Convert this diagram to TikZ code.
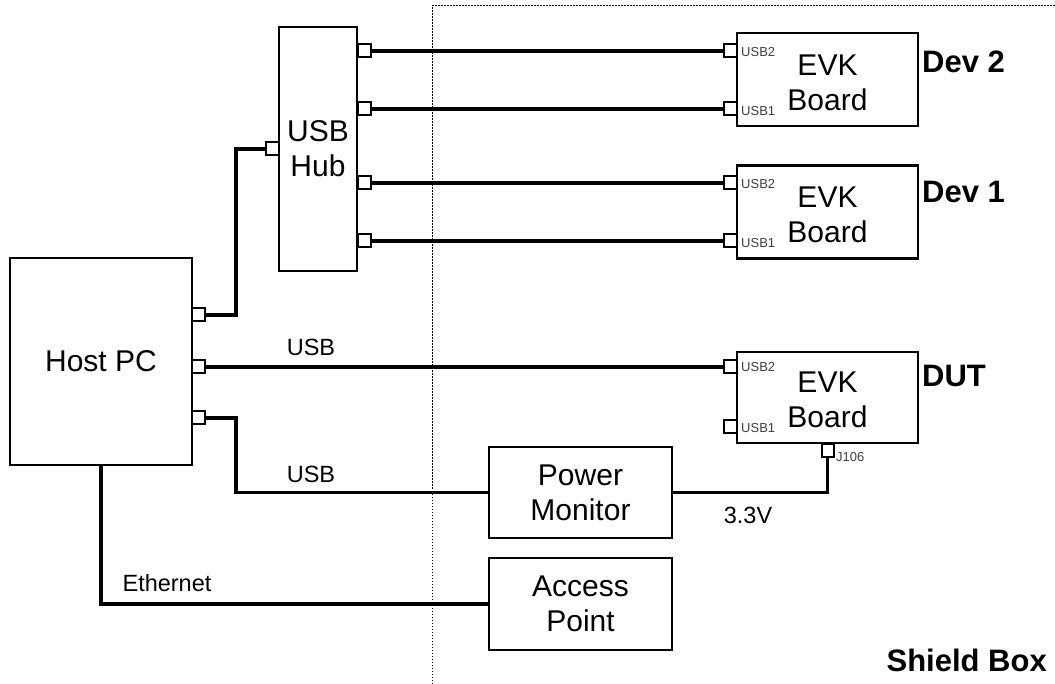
\documentclass[tikz,border=0pt]{standalone}
\usepackage{fontspec}
\setmainfont{Liberation Sans}
\newcommand{\myBig}{\fontsize{30}{35}\selectfont}
\newcommand{\myBold}{\fontsize{31}{36}\selectfont\bfseries}
\newcommand{\myMid}{\fontsize{23.5}{27}\selectfont}
\newcommand{\mySmall}{\fontsize{13}{15}\selectfont}
\begin{document}
\begin{tikzpicture}[x=1pt,y=-1pt,
  box/.style={draw, line width=2.3pt, inner sep=0pt, align=center, font=\myBig},
  evk/.style={box, minimum width=181pt},
  evktext/.style={inner sep=0pt, align=center, font=\myBig},
  port/.style={draw, line width=2pt, fill=white, minimum width=13pt, minimum height=13pt, inner sep=0pt},
  wire/.style={line width=3.4pt},
  plab/.style={font=\mySmall, anchor=west, inner sep=0pt, text=black!75},
  wlab/.style={font=\myMid, inner sep=0pt},
  ttl/.style={font=\myBold, anchor=west, inner sep=0pt},
  shield/.style={line width=1pt, dash pattern=on 1.5pt off 1.5pt}]
\useasboundingbox (0,0) rectangle (1055,684);
% shield box
\coordinate (sb1) at (432,684);
\coordinate (sb2) at (432,6);
\coordinate (sb3) at (1055,6);
\draw[shield] (sb1) -- (sb2) -- (sb3);
% boxes
\node[box, minimum width=182pt, minimum height=207pt] (pc) at (101,361.5) {Host PC};
\node[box, minimum width=78pt, minimum height=244pt] (hub) at (318,149) {USB\\Hub};
\node[evk, minimum height=93pt] (dev2) at (827.5,79.5) {};
\node[evk, minimum height=93pt] (dev1) at (827.5,212) {};
\node[evk, minimum height=91pt] (dut) at (827.5,397.5) {};
\node[evktext] (dev2t) at ([yshift=-3pt]dev2.center) {EVK\\Board};
\node[evktext] (dev1t) at ([yshift=-3pt]dev1.center) {EVK\\Board};
\node[evktext] (dutt) at ([yshift=-2pt]dut.center) {EVK\\Board};
\node[box, minimum width=183pt, minimum height=91pt] (pm) at (580.5,492.5) {Power\\Monitor};
\node[box, minimum width=183pt, minimum height=92pt] (ap) at (580.5,604) {Access\\Point};
% ports
\node[port] (hubin) at (272.5,149) {};
\node[port] (h1) at (364,51) {};
\node[port] (h2) at (364,109) {};
\node[port] (h3) at (364,183) {};
\node[port] (h4) at (364,241) {};
\node[port] (pc1) at (198.5,315) {};
\node[port] (pc2) at (198.5,367) {};
\node[port] (pc3) at (198.5,418) {};
\node[port] (d2a) at (730.5,51) {};
\node[port] (d2b) at (730.5,109) {};
\node[port] (d1a) at (730.5,183) {};
\node[port] (d1b) at (730.5,241) {};
\node[port] (dua) at (730.5,367) {};
\node[port] (dub) at (730.5,427) {};
\node[port, minimum width=12pt] (j) at (827.5,450) {};
% wires
\draw[wire] (pc1.east) -- ++(30,0) |- (hubin.west);
\draw[wire] (h1.east) -- (d2a.west);
\draw[wire] (h2.east) -- (d2b.west);
\draw[wire] (h3.east) -- (d1a.west);
\draw[wire] (h4.east) -- (d1b.west);
\draw[wire] (pc2.east) -- (dua.west);
\draw[wire] (pc3.east) -- ++(30,0) |- (pm.west);
\draw[wire] (pm.east) -| (j.south);
\draw[wire] (pc.south) |- (ap.west);
% port labels
\node[plab] (l1) at (741,52) {USB2};
\node[plab] (l2) at (741,111) {USB1};
\node[plab] (l3) at (741,184) {USB2};
\node[plab] (l4) at (741,243) {USB1};
\node[plab] (l5) at (741,367) {USB2};
\node[plab] (l6) at (741,428) {USB1};
\node[plab] (l7) at (836,457) {J106};
% wire labels
\node[wlab] (w1) at (311,347) {USB};
\node[wlab] (w2) at (311,474) {USB};
\node[wlab] (w3) at (167,583) {Ethernet};
\node[wlab] (w4) at (748,515) {3.3V};
% titles
\node[ttl] (t1) at (922,62) {Dev 2};
\node[ttl] (t2) at (922,192) {Dev 1};
\node[ttl] (t3) at (922,376) {DUT};
\node[font=\myBold, anchor=east, inner sep=0pt] (t4) at (1047,660) {Shield Box};
\end{tikzpicture}
\end{document}
